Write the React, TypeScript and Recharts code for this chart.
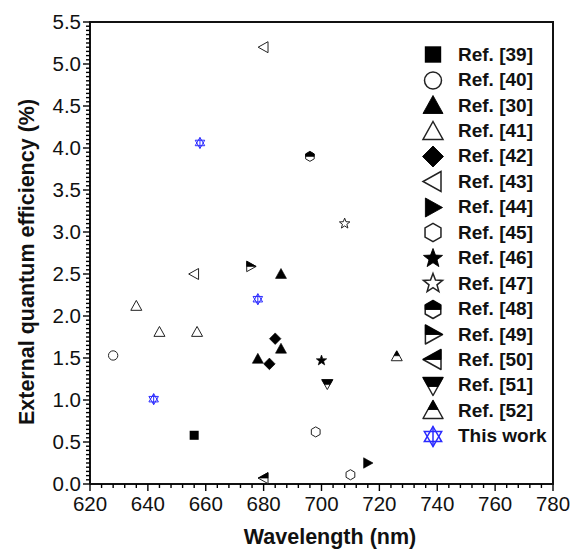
import { ScatterChart, Scatter, XAxis, YAxis } from "recharts";

// EQE vs emission wavelength
const ref39 = [{ wl: 656, eqe: 0.58 }];
const ref40 = [{ wl: 628, eqe: 1.53 }];
const ref30 = [
  { wl: 678, eqe: 1.49 },
  { wl: 686, eqe: 1.61 },
  { wl: 686, eqe: 2.5 },
];
const ref41 = [
  { wl: 636, eqe: 2.12 },
  { wl: 644, eqe: 1.81 },
  { wl: 657, eqe: 1.81 },
];
const ref42 = [
  { wl: 682, eqe: 1.43 },
  { wl: 684, eqe: 1.73 },
];
const ref43 = [
  { wl: 656, eqe: 2.5 },
  { wl: 680, eqe: 5.2 },
];
const ref44 = [{ wl: 716, eqe: 0.25 }];
const ref45 = [
  { wl: 698, eqe: 0.62 },
  { wl: 710, eqe: 0.11 },
];
const ref46 = [{ wl: 700, eqe: 1.47 }];
const ref47 = [{ wl: 708, eqe: 3.1 }];
const ref48 = [{ wl: 696, eqe: 3.9 }];
const ref49 = [{ wl: 675.6, eqe: 2.59 }];
const ref50 = [{ wl: 680, eqe: 0.07 }];
const ref51 = [{ wl: 702, eqe: 1.19 }];
const ref52 = [{ wl: 726, eqe: 1.52 }];
const thisWork = [
  { wl: 642, eqe: 1.01 },
  { wl: 658, eqe: 4.06 },
  { wl: 678, eqe: 2.2 },
];

const xMajorTicks = [620, 640, 660, 680, 700, 720, 740, 760, 780];
const yMajorTicks = [0, 0.5, 1, 1.5, 2, 2.5, 3, 3.5, 4, 4.5, 5, 5.5];

type Kind =
  | "square"
  | "circle"
  | "triUp"
  | "triUpOpen"
  | "diamond"
  | "triLeftOpen"
  | "triRight"
  | "hexOpen"
  | "star"
  | "starOpen"
  | "hexHalf"
  | "triRightHalf"
  | "triLeftHalf"
  | "triDownHalf"
  | "triUpHalf"
  | "hexagram";

const series: { name: string; kind: Kind; data: { wl: number; eqe: number }[] }[] = [
  { name: "Ref. [39]", kind: "square", data: ref39 },
  { name: "Ref. [40]", kind: "circle", data: ref40 },
  { name: "Ref. [30]", kind: "triUp", data: ref30 },
  { name: "Ref. [41]", kind: "triUpOpen", data: ref41 },
  { name: "Ref. [42]", kind: "diamond", data: ref42 },
  { name: "Ref. [43]", kind: "triLeftOpen", data: ref43 },
  { name: "Ref. [44]", kind: "triRight", data: ref44 },
  { name: "Ref. [45]", kind: "hexOpen", data: ref45 },
  { name: "Ref. [46]", kind: "star", data: ref46 },
  { name: "Ref. [47]", kind: "starOpen", data: ref47 },
  { name: "Ref. [48]", kind: "hexHalf", data: ref48 },
  { name: "Ref. [49]", kind: "triRightHalf", data: ref49 },
  { name: "Ref. [50]", kind: "triLeftHalf", data: ref50 },
  { name: "Ref. [51]", kind: "triDownHalf", data: ref51 },
  { name: "Ref. [52]", kind: "triUpHalf", data: ref52 },
  { name: "This work", kind: "hexagram", data: thisWork },
];

const FONT = "Arial, 'Liberation Sans', sans-serif";
const BLUE = "#2b2bff";

const HEX: [number, number][] = [
  [0, -1], [0.866, -0.5], [0.866, 0.5], [0, 1], [-0.866, 0.5], [-0.866, -0.5],
];
const HEX_TOP: [number, number][] = [
  [0, -1], [0.866, -0.5], [0.866, 0], [-0.866, 0], [-0.866, -0.5],
];
const TRI_UP: [number, number][] = [[0, -1], [1, 0.8], [-1, 0.8]];
const TRI_UP_TOP: [number, number][] = [[0, -1], [0.5, -0.1], [-0.5, -0.1]];
const TRI_DOWN: [number, number][] = [[-1, -0.8], [1, -0.8], [0, 1]];
const TRI_DOWN_TOP: [number, number][] = [[-1, -0.8], [1, -0.8], [0.5, 0.1], [-0.5, 0.1]];
const TRI_RIGHT: [number, number][] = [[-0.8, -1], [1, 0], [-0.8, 1]];
const TRI_RIGHT_TOP: [number, number][] = [[-0.8, -1], [1, 0], [-0.8, 0]];
const TRI_LEFT: [number, number][] = [[0.8, -1], [-1, 0], [0.8, 1]];
const TRI_LEFT_TOP: [number, number][] = [[0.8, -1], [-1, 0], [0.8, 0]];
const DIAMOND: [number, number][] = [[0, -1], [1, 0], [0, 1], [-1, 0]];
const STAR: [number, number][] = Array.from({ length: 10 }, (_, i) => {
  const a = ((-90 + i * 36) * Math.PI) / 180;
  const rr = i % 2 === 0 ? 1 : 0.42;
  return [Math.cos(a) * rr, Math.sin(a) * rr] as [number, number];
});
const HG_UP: [number, number][] = [[0, -1], [0.866, 0.5], [-0.866, 0.5]];
const HG_DOWN: [number, number][] = [[0, 1], [0.866, -0.5], [-0.866, -0.5]];

function pts(shape: [number, number][], cx: number, cy: number, r: number) {
  return shape.map(([a, b]) => `${cx + a * r},${cy + b * r}`).join(" ");
}

function Marker({ kind, cx, cy, r, sw }: { kind: Kind; cx: number; cy: number; r: number; sw: number }) {
  const open = { fill: "#fff", stroke: "#222", strokeWidth: sw };
  const solid = { fill: "#000", stroke: "#000", strokeWidth: sw * 0.6 };
  const half = (full: [number, number][], top: [number, number][], k = 1) => (
    <g>
      <polygon points={pts(full, cx, cy, r * k)} {...open} strokeLinejoin="round" />
      <polygon points={pts(top, cx, cy, r * k)} fill="#000" stroke="#000" strokeWidth={sw * 0.6} />
    </g>
  );
  switch (kind) {
    case "square":
      return <rect x={cx - r * 0.82} y={cy - r * 0.82} width={r * 1.64} height={r * 1.64} fill="#000" />;
    case "circle":
      return <circle cx={cx} cy={cy} r={r * 0.85} {...open} />;
    case "triUp":
      return <polygon points={pts(TRI_UP, cx, cy, r)} {...solid} />;
    case "triUpOpen":
      return <polygon points={pts(TRI_UP, cx, cy, r)} {...open} />;
    case "diamond":
      return <polygon points={pts(DIAMOND, cx, cy, r * 1.05)} {...solid} />;
    case "triLeftOpen":
      return <polygon points={pts(TRI_LEFT, cx, cy, r)} {...open} />;
    case "triRight":
      return <polygon points={pts(TRI_RIGHT, cx, cy, r * 0.95)} {...solid} />;
    case "hexOpen":
      return <polygon points={pts(HEX, cx, cy, r * 0.92)} {...open} />;
    case "star":
      return <polygon points={pts(STAR, cx, cy, r)} {...solid} />;
    case "starOpen":
      return <polygon points={pts(STAR, cx, cy, r)} {...open} />;
    case "hexHalf":
      return half(HEX, HEX_TOP, 0.9);
    case "triRightHalf":
      return half(TRI_RIGHT, TRI_RIGHT_TOP, 0.95);
    case "triLeftHalf":
      return half(TRI_LEFT, TRI_LEFT_TOP);
    case "triDownHalf":
      return half(TRI_DOWN, TRI_DOWN_TOP);
    case "triUpHalf":
      return half(TRI_UP, TRI_UP_TOP);
    case "hexagram":
      return (
        <g fill="none" stroke={BLUE} strokeWidth={sw}>
          <polygon points={pts(HG_UP, cx, cy, r)} />
          <polygon points={pts(HG_DOWN, cx, cy, r)} />
          <line x1={cx} y1={cy - r} x2={cx} y2={cy + r} />
        </g>
      );
  }
  return null;
}

function XTick(props: any) {
  const { x, y, payload } = props;
  const v = payload.value as number;
  const major = xMajorTicks.includes(v);
  return (
    <g>
      <line x1={x} x2={x} y1={y} y2={y + (major ? 7 : 4)} stroke="#000" strokeWidth={1.4} />
      {major && (
        <text x={x} y={y + 27} textAnchor="middle" fontSize={20.5} fill="#111" fontFamily={FONT}>
          {v}
        </text>
      )}
    </g>
  );
}

function YTick(props: any) {
  const { x, y, payload } = props;
  const v = payload.value as number;
  const major = yMajorTicks.some((t) => Math.abs(t - v) < 1e-6);
  return (
    <g>
      <line x1={x - (major ? 7 : 4)} x2={x} y1={y} y2={y} stroke="#000" strokeWidth={1.4} />
      {major && (
        <text x={x - 9} y={y + 7.3} textAnchor="end" fontSize={20.5} fill="#111" fontFamily={FONT}>
          {v.toFixed(1)}
        </text>
      )}
    </g>
  );
}

const xTicks = Array.from({ length: 41 }, (_, i) => 620 + i * 4);
const yTicks = Array.from({ length: 111 }, (_, i) => Math.round(i * 5) / 100);

function LegendBox() {
  return (
    <div style={{ position: "absolute", left: 420, top: 42, fontFamily: FONT }}>
      {series.map((s) => (
        <div key={s.name} style={{ display: "flex", alignItems: "center", height: 25.45 }}>
          <svg width={26} height={25} style={{ overflow: "visible" }}>
            <Marker kind={s.kind} cx={13} cy={12.5} r={10} sw={1.5} />
          </svg>
          <span
            style={{
              marginLeft: 12,
              fontSize: 19,
              fontWeight: "bold",
              color: "#111",
              whiteSpace: "nowrap",
            }}
          >
            {s.name}
          </span>
        </div>
      ))}
    </div>
  );
}

const axisStroke = { stroke: "#111", strokeWidth: 2 };

export default function App() {
  return (
    <div style={{ position: "absolute", left: 0, top: 0, width: 574, height: 549, background: "#fff" }}>
      <ScatterChart
        width={574}
        height={549}
        margin={{ top: 22, right: 21, bottom: 0, left: 0 }}
        style={{ fontFamily: FONT }}
      >
        <XAxis
          type="number"
          dataKey="wl"
          domain={[620, 780]}
          ticks={xTicks}
          interval={0}
          tickSize={0}
          tickMargin={0}
          axisLine={axisStroke}
          tick={(p: any) => <XTick {...p} />}
          height={65}
          allowDataOverflow
          label={{
            content: () => (
              <text
                x={330}
                y={544}
                textAnchor="middle"
                fontSize={21.5}
                fontWeight="bold"
                fill="#111"
                fontFamily={FONT}
              >
                Wavelength (nm)
              </text>
            ),
          }}
        />
        <YAxis
          type="number"
          dataKey="eqe"
          domain={[0, 5.5]}
          ticks={yTicks}
          interval={0}
          tickSize={0}
          tickMargin={0}
          axisLine={axisStroke}
          tick={(p: any) => <YTick {...p} />}
          width={90}
          allowDataOverflow
          label={{
            content: () => (
              <text
                x={34}
                y={262}
                transform="rotate(-90, 34, 262)"
                textAnchor="middle"
                fontSize={21.5}
                fontWeight="bold"
                fill="#111"
                fontFamily={FONT}
              >
                External quantum efficiency (%)
              </text>
            ),
          }}
        />
        {series.map((s) => (
          <Scatter
            key={s.name}
            name={s.name}
            data={s.data}
            isAnimationActive={false}
            shape={(p: any) => <Marker kind={s.kind} cx={p.cx} cy={p.cy} r={5.5} sw={1} />}
          />
        ))}
      </ScatterChart>
      {/* top and right edges of the plot frame */}
      <div
        style={{
          position: "absolute",
          left: 89,
          top: 21,
          width: 465,
          height: 464,
          boxSizing: "border-box",
          borderTop: "2px solid #111",
          borderRight: "2px solid #111",
          pointerEvents: "none",
        }}
      />
      <LegendBox />
    </div>
  );
}
